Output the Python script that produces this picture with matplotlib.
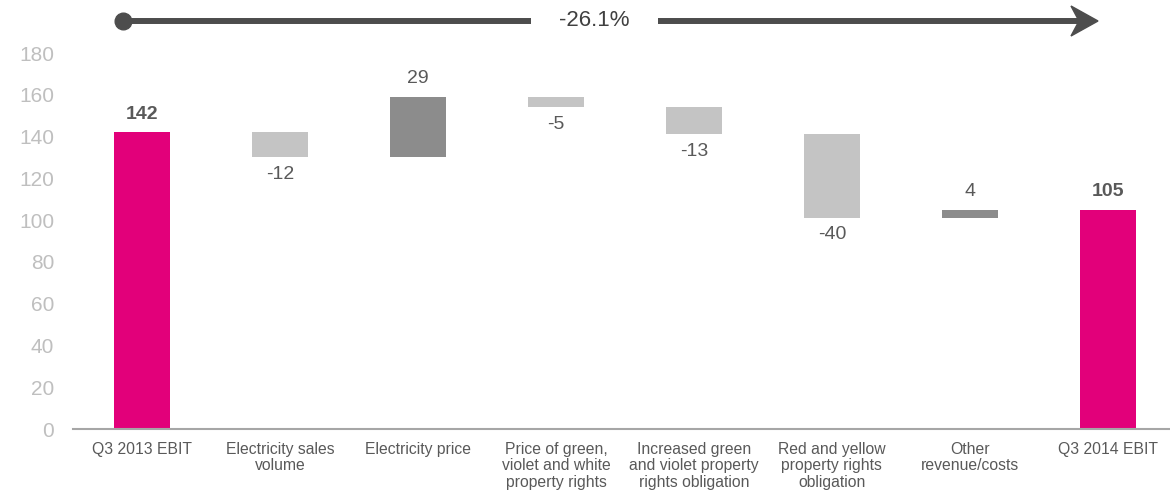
import matplotlib
matplotlib.use("Agg")
import matplotlib.pyplot as plt
from matplotlib.lines import Line2D
from matplotlib.patches import Polygon

plt.rcParams['font.family'] = ['Liberation Sans', 'DejaVu Sans']

categories = ["Q3 2013 EBIT", "Electricity sales\nvolume", "Electricity price",
              "Price of green,\nviolet and white\nproperty rights",
              "Increased green\nand violet property\nrights obligation",
              "Red and yellow\nproperty rights\nobligation",
              "Other\nrevenue/costs", "Q3 2014 EBIT"]
values = [142, -12, 29, -5, -13, -40, 4, 105]
is_total = [True, False, False, False, False, False, False, True]
change_label = "-26.1%"
yticks = [0, 20, 40, 60, 80, 100, 120, 140, 160, 180]

MAGENTA = "#E2007A"
NEG = "#C4C4C4"
POS = "#8C8C8C"
TXT = "#595959"

fig = plt.figure(figsize=(11.7, 4.94), dpi=100)
ax = fig.add_axes([73 / 1170, 65 / 494, (1170 - 73) / 1170, (441 - 65) / 494])

# waterfall bottoms
running = 0
for i, (v, tot) in enumerate(zip(values, is_total)):
    if tot:
        bottom, height, color = 0, v, MAGENTA
        running = v
    else:
        bottom = running if v > 0 else running + v
        height = abs(v)
        color = POS if v > 0 else NEG
        running += v
    ax.bar(i, height, bottom=bottom, width=0.4, color=color, zorder=2)
    if tot:
        ax.annotate(f"{v}", (i, v), xytext=(0, 7), textcoords="offset points",
                    ha="center", va="bottom", fontsize=14, fontweight="bold", color=TXT)
    elif v > 0:
        ax.annotate(f"{v}", (i, bottom + height), xytext=(0, 7), textcoords="offset points",
                    ha="center", va="bottom", fontsize=14, color=TXT)
    else:
        ax.annotate(f"{v}", (i, bottom), xytext=(0, -6), textcoords="offset points",
                    ha="center", va="top", fontsize=14, color=TXT)

ax.set_xlim(-0.5, 7.45)
ax.set_ylim(0, 180)
ax.set_yticks(yticks)
ax.set_xticks(range(len(categories)))
ax.set_xticklabels(categories, fontsize=11.3, color=TXT, linespacing=1.15)
ax.tick_params(axis="y", length=0, pad=13.5, labelsize=15, labelcolor="#BFBFBF")
ax.tick_params(axis="x", length=0, pad=9)
for s in ["top", "right", "left"]:
    ax.spines[s].set_visible(False)
ax.spines["bottom"].set_color("#A6A6A6")
ax.spines["bottom"].set_linewidth(1.5)

# change arrow across the top
W, H = 1170, 494
ay = 1 - 21 / H
arrow_col = "#4D4D4D"
fig.add_artist(Line2D([123 / W, 531 / W], [ay, ay], transform=fig.transFigure,
                      color=arrow_col, lw=4.3, solid_capstyle="butt"))
fig.add_artist(Line2D([123 / W], [ay], transform=fig.transFigure, marker="o",
                      markersize=12, color=arrow_col))
fig.add_artist(Line2D([658 / W, 1082 / W], [ay, ay], transform=fig.transFigure,
                      color=arrow_col, lw=4.3, solid_capstyle="butt"))
head = [(1098, 21), (1071, 36), (1079, 21), (1071, 6)]
fig.add_artist(Polygon([(x / W, 1 - y / H) for x, y in head], closed=True,
                       transform=fig.transFigure, color=arrow_col))
fig.text(594 / W, ay, change_label, ha="center", va="center", fontsize=16, color="#404040")

fig.savefig("out.png", dpi=100)
